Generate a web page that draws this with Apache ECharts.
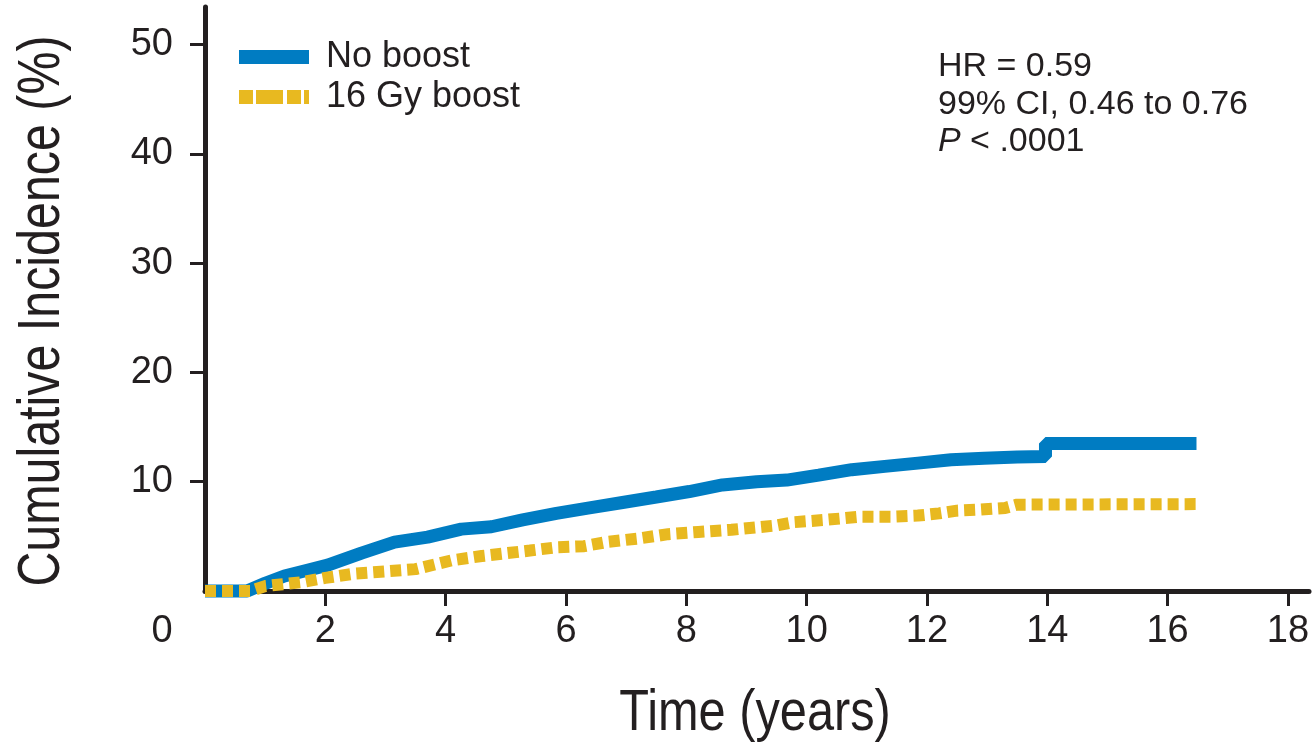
<!DOCTYPE html>
<html>
<head>
<meta charset="utf-8">
<script src="https://cdn.jsdelivr.net/npm/echarts@6/dist/echarts.min.js"></script>
<style>
  html, body { margin: 0; padding: 0; background: #ffffff; }
  #chart { width: 1313px; height: 742px; }
</style>
</head>
<body>
<div id="chart"></div>
<script>
// ---- Data ----
const seriesNames = ['No boost', '16 Gy boost'];

const noBoostTime = [0, 0.7, 1.0, 1.32, 1.7, 2.04, 2.6, 3.15, 3.7, 4.26, 4.76, 5.28, 5.84, 6.39, 6.94, 7.5, 8.05, 8.6, 9.17, 9.67, 10.2, 10.75, 11.3, 11.85, 12.4, 12.95, 13.5, 13.97, 13.97, 16.48];
const noBoostValue = [0, 0, 0.7, 1.37, 1.9, 2.37, 3.47, 4.47, 4.93, 5.66, 5.88, 6.5, 7.1, 7.6, 8.1, 8.6, 9.1, 9.7, 10.0, 10.15, 10.6, 11.1, 11.4, 11.7, 12.0, 12.15, 12.25, 12.3, 13.5, 13.5];

const boostTime = [0, 0.75, 1.0, 1.6, 2.0, 2.5, 3.0, 3.5, 4.1, 4.6, 5.0, 5.4, 5.85, 6.3, 6.7, 7.2, 7.7, 8.2, 8.75, 9.5, 9.8, 10.3, 10.9, 11.4, 11.85, 12.2, 12.5, 12.9, 13.3, 13.5, 16.56];
const boostValue = [0, 0, 0.45, 0.8, 1.2, 1.6, 1.8, 2.0, 2.8, 3.2, 3.45, 3.7, 4.0, 4.1, 4.5, 4.8, 5.2, 5.4, 5.6, 6.0, 6.3, 6.5, 6.8, 6.8, 6.9, 7.1, 7.35, 7.45, 7.6, 7.9, 7.95];

const xTickValues = [2, 4, 6, 8, 10, 12, 14, 16, 18];
const xLabelValues = [0, 2, 4, 6, 8, 10, 12, 14, 16, 18];
const yTickValues = [10, 20, 30, 40, 50];
const yLabelValues = [10, 20, 30, 40, 50];

const annotationLines = ['HR = 0.59', '99% CI, 0.46 to 0.76', '{i|P} < .0001'];

const xAxisTitle = 'Time (years)';
const yAxisTitle = 'Cumulative Incidence (%)';

// ---- Chart ----
const ink = '#231f20';
const blue = '#007cc2';
const gold = '#e8b920';
const baseFont = "'Liberation Sans', Arial, Helvetica, sans-serif";

function zip(xs, ys) { return xs.map((x, i) => [x, ys[i]]); }

const chart = echarts.init(document.getElementById('chart'), null, { renderer: 'canvas' });

chart.setOption({
  animation: false,
  backgroundColor: '#ffffff',
  grid: { left: 205, right: 4, top: 7, bottom: 151, containLabel: false, outerBoundsMode: 'none' },
  legend: {
    orient: 'vertical',
    left: 232,
    top: 39,
    padding: 0,
    itemWidth: 70,
    itemHeight: 14,
    itemGap: 4,
    selectedMode: false,
    lineStyle: { width: 14 },
    textStyle: {
      fontFamily: baseFont, fontSize: 36, color: ink,
      padding: [0, 0, 0, 12], lineHeight: 36
    },
    data: [
      { name: seriesNames[0] },
      { name: seriesNames[1], lineStyle: { type: [14, 3, 27, 4, 14, 3, 5, 100] } }
    ]
  },
  xAxis: {
    type: 'value',
    min: 0,
    max: 18.35,
    splitLine: { show: false },
    axisLine: { show: true, lineStyle: { color: ink, width: 5 } },
    axisTick: { show: true, customValues: xTickValues, length: 15, lineStyle: { color: ink, width: 3 } },
    axisLabel: {
      customValues: xLabelValues,
      fontFamily: baseFont, fontSize: 38, color: ink, margin: 22,
      formatter: function (v) { return v === 0 ? '{z|0}' : String(v); },
      rich: { z: { fontFamily: baseFont, fontSize: 38, color: ink, padding: [0, 86, 0, 0] } }
    }
  },
  yAxis: {
    type: 'value',
    min: 0,
    max: 53.43,
    offset: 2,
    splitLine: { show: false },
    axisLine: { show: true, lineStyle: { color: ink, width: 5 } },
    axisTick: { show: true, customValues: yTickValues, length: 15, lineStyle: { color: ink, width: 3 } },
    axisLabel: {
      customValues: yLabelValues,
      fontFamily: baseFont, fontSize: 38, color: ink, margin: 30
    }
  },
  graphic: [
    {
      type: 'text',
      left: 938,
      top: 48,
      style: {
        text: annotationLines.join('\n'),
        fontFamily: baseFont,
        fontSize: 34,
        lineHeight: 37.5,
        fill: ink,
        rich: {
          i: { fontFamily: baseFont, fontSize: 34, fontStyle: 'italic', lineHeight: 37.5, fill: ink }
        }
      }
    },
    {
      type: 'text',
      x: 755,
      y: 714,
      scaleX: 0.84,
      style: {
        text: xAxisTitle,
        fontFamily: baseFont, fontSize: 58, fill: ink,
        align: 'center', verticalAlign: 'middle'
      }
    },
    {
      type: 'text',
      x: 43,
      y: 311,
      rotation: Math.PI / 2,
      scaleX: 0.82,
      style: {
        text: yAxisTitle,
        fontFamily: baseFont, fontSize: 59, fill: ink,
        align: 'center', verticalAlign: 'middle'
      }
    }
  ],
  series: [
    {
      name: seriesNames[0],
      type: 'line',
      data: zip(noBoostTime, noBoostValue),
      symbol: 'none',
      showSymbol: false,
      clip: false,
      z: 3,
      lineStyle: { color: blue, width: 13 },
      itemStyle: { color: blue }
    },
    {
      name: seriesNames[1],
      type: 'line',
      data: zip(boostTime, boostValue),
      symbol: 'none',
      showSymbol: false,
      clip: false,
      z: 4,
      lineStyle: { color: gold, width: 12, type: [11, 6] },
      itemStyle: { color: gold }
    }
  ]
});
</script>
</body>
</html>
